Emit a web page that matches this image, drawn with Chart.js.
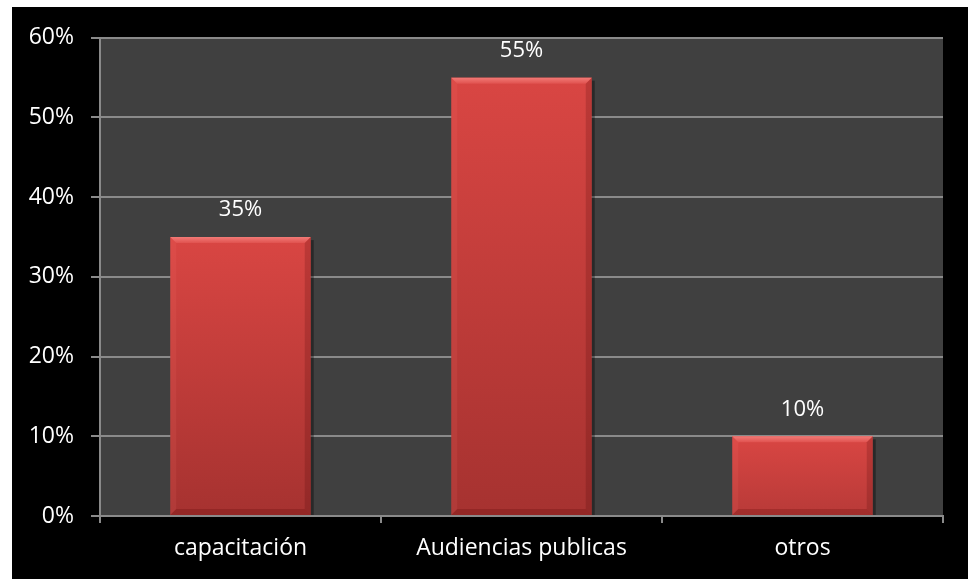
<!DOCTYPE html>
<html>
<head>
<meta charset="utf-8">
<script src="https://cdn.jsdelivr.net/npm/chart.js@4/dist/chart.umd.min.js"></script>
<style>
  html, body { margin: 0; padding: 0; background: #fff; }
  #wrap { position: absolute; left: 12px; top: 7px; width: 956px; height: 572px; background: #000; }
</style>
</head>
<body>
<div id="wrap"><canvas id="chart" width="956" height="572"></canvas></div>
<script>
// Datos del gráfico
const categories = ['capacitación', 'Audiencias publicas', 'otros'];
const values     = [0.35, 0.55, 0.10];
const yTicks     = [0, 0.1, 0.2, 0.3, 0.4, 0.5, 0.6];

const FONT = '"Open Sans", Lato, sans-serif';
const pct = v => Math.round(v * 100) + '%';

// Fondo gris del área de trazado
const plotBg = {
  id: 'plotBg',
  beforeDraw(chart) {
    const { ctx, chartArea: a } = chart;
    ctx.save();
    ctx.fillStyle = '#404040';
    ctx.fillRect(a.left, a.top, a.right - a.left, a.bottom - a.top);
    ctx.restore();
  }
};

// Barras con degradado y bisel (estilo Excel)
const bevelBars = {
  id: 'bevelBars',
  afterDatasetsDraw(chart) {
    const ctx = chart.ctx;
    chart.getDatasetMeta(0).data.forEach((bar, i) => {
      const l = bar.x - bar.width / 2, r = bar.x + bar.width / 2;
      const t = bar.y, b = bar.base, h = b - t, d = 6;
      ctx.save();
      // sombra a la derecha
      ctx.fillStyle = 'rgba(0,0,0,0.35)';
      ctx.fillRect(r, t + 3, 3, h - 3);
      const g = ctx.createLinearGradient(0, t, 0, b);
      g.addColorStop(0, '#d94643');
      g.addColorStop(1, h > 200 ? '#a63230' : '#b83a38');
      ctx.fillStyle = g;
      ctx.fillRect(l, t, r - l, h);
      // bisel superior
      ctx.beginPath();
      ctx.moveTo(l, t); ctx.lineTo(r, t); ctx.lineTo(r - d, t + d); ctx.lineTo(l + d, t + d); ctx.closePath();
      const gt = ctx.createLinearGradient(0, t, 0, t + d);
      gt.addColorStop(0, '#f27a76'); gt.addColorStop(1, '#e0524f');
      ctx.fillStyle = gt; ctx.fill();
      // bisel izquierdo
      ctx.beginPath();
      ctx.moveTo(l, t); ctx.lineTo(l + d, t + d); ctx.lineTo(l + d, b - d); ctx.lineTo(l, b); ctx.closePath();
      ctx.fillStyle = 'rgba(255,120,115,0.12)'; ctx.fill();
      // bisel derecho
      ctx.beginPath();
      ctx.moveTo(r, t); ctx.lineTo(r - d, t + d); ctx.lineTo(r - d, b - d); ctx.lineTo(r, b); ctx.closePath();
      ctx.fillStyle = 'rgba(60,0,0,0.18)'; ctx.fill();
      // bisel inferior
      ctx.beginPath();
      ctx.moveTo(l, b); ctx.lineTo(r, b); ctx.lineTo(r - d, b - d); ctx.lineTo(l + d, b - d); ctx.closePath();
      ctx.fillStyle = 'rgba(80,0,0,0.22)'; ctx.fill();
      // etiqueta de valor
      ctx.fillStyle = '#ffffff';
      ctx.font = '22px ' + FONT;
      ctx.textAlign = 'center';
      ctx.textBaseline = 'middle';
      ctx.fillText(pct(values[i]), bar.x, t - 27);
      ctx.restore();
    });
  }
};

new Chart(document.getElementById('chart'), {
  type: 'bar',
  data: {
    labels: categories,
    datasets: [{
      data: values,
      backgroundColor: 'rgba(0,0,0,0)',
      categoryPercentage: 1,
      barPercentage: 0.5
    }]
  },
  plugins: [plotBg, bevelBars],
  options: {
    responsive: false,
    animation: false,
    layout: { padding: { left: 0, right: 25, top: 29, bottom: 0 } },
    plugins: { legend: { display: false }, tooltip: { enabled: false } },
    scales: {
      x: {
        offset: true,
        grid: { offset: true, drawOnChartArea: false, color: '#8a8a8a', lineWidth: 2, tickLength: 7 },
        border: { color: '#8a8a8a', width: 2 },
        ticks: { color: '#ffffff', font: { family: FONT, size: 23 }, padding: 12 },
        afterFit(s) { s.height = 63; }
      },
      y: {
        min: 0, max: 0.6,
        afterBuildTicks(s) { s.ticks = yTicks.map(v => ({ value: v })); },
        grid: { color: '#8a8a8a', lineWidth: 2, tickLength: 9 },
        border: { color: '#8a8a8a', width: 2 },
        ticks: { color: '#ffffff', font: { family: FONT, size: 23 }, padding: 17, callback: v => pct(v) },
        afterFit(s) { s.width = 88; }
      }
    }
  }
});
</script>
</body>
</html>
